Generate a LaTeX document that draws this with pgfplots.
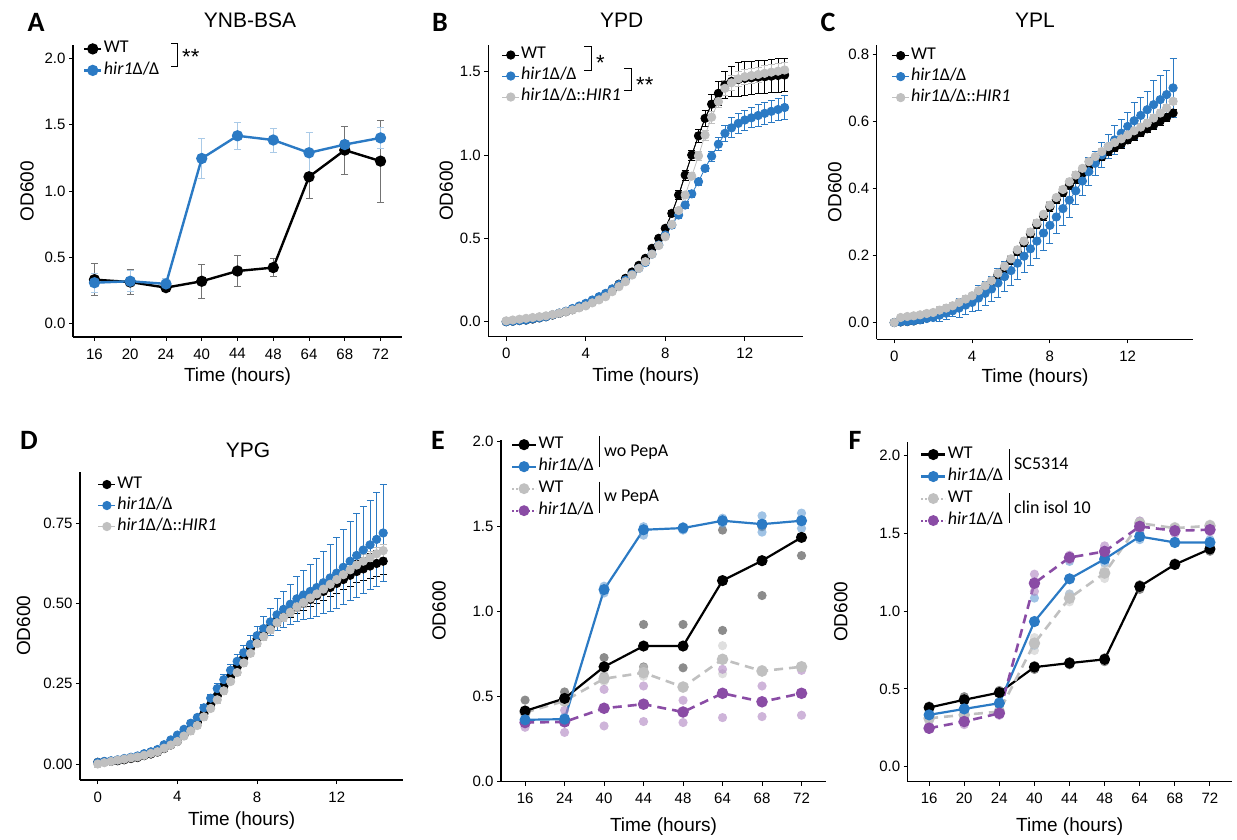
\documentclass[border=0pt]{standalone}
\usepackage{fontspec}
\setmainfont{Liberation Sans}
\newfontfamily\calfont{Carlito}
\usepackage{pgfplots}
\usepackage{pgfplotstable}
\pgfplotsset{compat=1.18}

\definecolor{hblue}{RGB}{43,122,196}
\definecolor{hgray}{RGB}{192,192,192}
\definecolor{hpurple}{RGB}{138,76,165}

\newcommand{\tickfont}{\fontsize{15}{18}\selectfont}
\newcommand{\labfont}{\fontsize{19}{22}\selectfont}
\newcommand{\legfont}{\calfont\fontsize{18}{20}\selectfont}
\newcommand{\titfont}{\fontsize{21}{24}\selectfont}
\newcommand{\letfont}{\calfont\bfseries\fontsize{28}{30}\selectfont}
\newcommand{\hir}{\textit{hir1}Δ/Δ}

% panel A: YNB-BSA, categories 16..72 at 0..8
\pgfplotstableread{
x wt wte hir hire
0 0.332 0.120 0.309 0.07
1 0.314 0.095 0.320 0.08
2 0.272 0.020 0.300 0.04
3 0.320 0.128 1.245 0.15
4 0.397 0.116 1.416 0.10
5 0.423 0.067 1.384 0.09
6 1.107 0.165 1.288 0.15
7 1.308 0.180 1.350 0.03
8 1.225 0.310 1.400 0.08
}\tA

% panel B: YPD
\pgfplotstableread{
t wt wte hir hire comp compe
0.00 0.000 0.01 0.000 0.01 0.005 0.01
0.33 0.003 0.01 0.003 0.01 0.010 0.01
0.67 0.007 0.01 0.007 0.01 0.015 0.01
1.00 0.010 0.01 0.010 0.01 0.020 0.01
1.33 0.016 0.01 0.017 0.01 0.025 0.01
1.67 0.023 0.01 0.023 0.01 0.030 0.01
2.00 0.030 0.01 0.030 0.01 0.035 0.01
2.33 0.040 0.01 0.041 0.01 0.043 0.01
2.67 0.050 0.01 0.052 0.01 0.051 0.01
3.00 0.060 0.01 0.063 0.01 0.060 0.01
3.33 0.072 0.01 0.079 0.01 0.071 0.01
3.67 0.086 0.01 0.094 0.01 0.083 0.01
4.00 0.100 0.01 0.110 0.01 0.095 0.01
4.33 0.118 0.01 0.130 0.01 0.113 0.01
4.67 0.138 0.01 0.150 0.01 0.131 0.01
5.00 0.160 0.01 0.170 0.01 0.150 0.01
5.33 0.190 0.01 0.197 0.01 0.180 0.01
5.67 0.225 0.01 0.223 0.01 0.210 0.01
6.00 0.260 0.01 0.250 0.01 0.240 0.01
6.33 0.298 0.01 0.285 0.015 0.280 0.01
6.67 0.338 0.01 0.320 0.015 0.320 0.01
7.00 0.380 0.01 0.355 0.015 0.360 0.01
7.33 0.440 0.01 0.405 0.015 0.405 0.01
7.67 0.500 0.01 0.460 0.015 0.457 0.01
8.00 0.560 0.01 0.520 0.015 0.510 0.01
8.33 0.650 0.02 0.580 0.02 0.583 0.01
8.67 0.760 0.025 0.640 0.02 0.667 0.01
9.00 0.880 0.03 0.700 0.02 0.760 0.01
9.33 1.000 0.03 0.767 0.02 0.873 0.02
9.67 1.115 0.04 0.840 0.02 0.995 0.025
10.00 1.220 0.05 0.920 0.02 1.120 0.03
10.33 1.305 0.06 0.993 0.03 1.227 0.035
10.67 1.370 0.07 1.065 0.04 1.320 0.035
11.00 1.420 0.08 1.130 0.05 1.400 0.045
11.33 1.442 0.09 1.163 0.06 1.433 0.045
11.67 1.453 0.10 1.190 0.06 1.457 0.045
12.00 1.460 0.10 1.210 0.06 1.470 0.045
12.33 1.463 0.10 1.223 0.06 1.477 0.045
12.67 1.467 0.10 1.237 0.065 1.483 0.045
13.00 1.470 0.10 1.250 0.065 1.490 0.045
13.33 1.473 0.10 1.262 0.065 1.497 0.045
13.67 1.477 0.10 1.273 0.065 1.503 0.045
14.00 1.480 0.10 1.285 0.07 1.510 0.045
}\tB

% panel C: YPL
\pgfplotstableread{
t wt wte hir hire comp compe
0.00 0.000 0.005 0.000 0.005 0.000 0.005
0.33 0.002 0.005 0.002 0.005 0.015 0.005
0.67 0.003 0.005 0.003 0.005 0.018 0.005
1.00 0.005 0.005 0.005 0.005 0.020 0.005
1.33 0.009 0.008 0.008 0.010 0.023 0.008
1.67 0.014 0.008 0.012 0.010 0.027 0.008
2.00 0.018 0.008 0.015 0.010 0.030 0.008
2.33 0.025 0.010 0.022 0.018 0.037 0.010
2.67 0.033 0.010 0.028 0.018 0.043 0.010
3.00 0.040 0.010 0.035 0.018 0.050 0.010
3.33 0.050 0.012 0.043 0.028 0.060 0.010
3.67 0.060 0.012 0.052 0.028 0.070 0.010
4.00 0.070 0.012 0.060 0.028 0.080 0.010
4.33 0.087 0.012 0.073 0.037 0.095 0.010
4.67 0.103 0.012 0.087 0.037 0.110 0.010
5.00 0.120 0.012 0.100 0.037 0.125 0.010
5.33 0.142 0.012 0.118 0.044 0.147 0.010
5.67 0.163 0.012 0.137 0.044 0.168 0.010
6.00 0.185 0.012 0.155 0.044 0.190 0.010
6.33 0.212 0.012 0.177 0.049 0.217 0.010
6.67 0.238 0.012 0.198 0.049 0.243 0.010
7.00 0.265 0.012 0.220 0.049 0.270 0.010
7.33 0.292 0.012 0.243 0.053 0.297 0.010
7.67 0.318 0.012 0.267 0.053 0.323 0.010
8.00 0.345 0.012 0.290 0.053 0.350 0.010
8.33 0.367 0.012 0.315 0.050 0.373 0.010
8.67 0.388 0.012 0.340 0.050 0.397 0.010
9.00 0.410 0.012 0.365 0.050 0.420 0.010
9.33 0.428 0.012 0.393 0.042 0.440 0.010
9.67 0.447 0.012 0.422 0.042 0.460 0.010
10.00 0.465 0.012 0.450 0.042 0.480 0.010
10.33 0.480 0.012 0.475 0.036 0.495 0.010
10.67 0.495 0.012 0.500 0.036 0.510 0.010
11.00 0.510 0.012 0.525 0.036 0.525 0.010
11.33 0.522 0.012 0.545 0.042 0.537 0.010
11.67 0.533 0.012 0.565 0.042 0.548 0.010
12.00 0.545 0.012 0.585 0.042 0.560 0.010
12.33 0.556 0.012 0.602 0.055 0.572 0.010
12.67 0.567 0.012 0.618 0.055 0.583 0.010
13.00 0.578 0.012 0.635 0.055 0.595 0.010
13.33 0.589 0.012 0.650 0.072 0.610 0.010
13.67 0.601 0.012 0.665 0.072 0.625 0.010
14.00 0.612 0.012 0.680 0.072 0.640 0.010
14.33 0.625 0.012 0.700 0.088 0.660 0.010
}\tC

% panel D: YPG
\pgfplotstableread{
t wt wte hir hire comp compe
0.00 0.005 0.008 0.005 0.005 0.000 0.01
0.33 0.007 0.008 0.008 0.005 0.004 0.01
0.67 0.008 0.008 0.010 0.005 0.008 0.01
1.00 0.010 0.008 0.013 0.005 0.012 0.01
1.33 0.013 0.008 0.017 0.005 0.015 0.01
1.67 0.017 0.008 0.021 0.005 0.019 0.01
2.00 0.020 0.008 0.025 0.005 0.022 0.01
2.33 0.026 0.008 0.032 0.005 0.027 0.01
2.67 0.031 0.008 0.038 0.005 0.033 0.01
3.00 0.037 0.008 0.045 0.005 0.038 0.01
3.33 0.048 0.008 0.060 0.005 0.049 0.01
3.67 0.059 0.008 0.075 0.005 0.059 0.01
4.00 0.070 0.008 0.090 0.005 0.070 0.01
4.33 0.090 0.008 0.108 0.007 0.087 0.01
4.67 0.110 0.008 0.127 0.008 0.103 0.01
5.00 0.130 0.008 0.145 0.010 0.120 0.01
5.33 0.157 0.008 0.175 0.012 0.147 0.01
5.67 0.185 0.008 0.205 0.013 0.173 0.01
6.00 0.212 0.008 0.235 0.015 0.200 0.01
6.33 0.242 0.008 0.263 0.017 0.228 0.01
6.67 0.272 0.008 0.292 0.018 0.257 0.01
7.00 0.302 0.008 0.320 0.020 0.285 0.01
7.33 0.331 0.008 0.347 0.023 0.315 0.01
7.67 0.361 0.008 0.373 0.027 0.345 0.01
8.00 0.390 0.008 0.400 0.030 0.375 0.01
8.33 0.409 0.010 0.422 0.037 0.397 0.012
8.67 0.429 0.013 0.443 0.043 0.418 0.012
9.00 0.448 0.015 0.465 0.050 0.440 0.012
9.33 0.462 0.017 0.482 0.057 0.457 0.014
9.67 0.476 0.018 0.498 0.063 0.473 0.014
10.00 0.490 0.020 0.515 0.070 0.490 0.014
10.33 0.502 0.022 0.527 0.077 0.503 0.016
10.67 0.513 0.023 0.538 0.083 0.517 0.016
11.00 0.525 0.025 0.550 0.090 0.530 0.016
11.33 0.538 0.027 0.565 0.097 0.545 0.018
11.67 0.550 0.028 0.580 0.103 0.560 0.018
12.00 0.563 0.030 0.595 0.110 0.575 0.018
12.33 0.575 0.032 0.613 0.117 0.590 0.02
12.67 0.588 0.033 0.632 0.123 0.605 0.02
13.00 0.600 0.035 0.650 0.130 0.620 0.02
13.33 0.608 0.037 0.667 0.135 0.632 0.02
13.67 0.617 0.038 0.683 0.140 0.643 0.02
14.00 0.625 0.040 0.700 0.145 0.655 0.02
14.33 0.632 0.040 0.720 0.150 0.665 0.02
}\tD

% panel E: means, categories 16,24,40,44,48,64,68,72 at 0..7
\pgfplotstableread{
x wt hir wtp hirp
0 0.416 0.364 0.407 0.348
1 0.490 0.368 0.475 0.352
2 0.676 1.130 0.606 0.432
3 0.798 1.482 0.641 0.456
4 0.798 1.492 0.557 0.410
5 1.183 1.535 0.720 0.520
6 1.300 1.515 0.651 0.470
7 1.437 1.535 0.676 0.520
}\tE
% panel E: replicates
\pgfplotstableread{
x wt hir wtp hirp
0 0.480 0.370 0.420 0.370
0 0.410 0.360 0.400 0.350
0 0.360 0.360 0.400 0.320
1 0.528 0.380 0.480 0.420
1 0.470 0.360 0.470 0.350
1 0.470 0.360 0.470 0.290
2 0.730 1.150 0.630 0.543
2 0.680 1.130 0.600 0.430
2 0.620 1.110 0.590 0.328
3 0.925 1.500 0.670 0.563
3 0.795 1.480 0.640 0.455
3 0.675 1.450 0.620 0.354
4 0.925 1.500 0.560 0.479
4 0.795 1.490 0.555 0.410
4 0.670 1.480 0.550 0.348
5 1.480 1.550 0.800 0.661
5 1.180 1.530 0.720 0.520
5 0.890 1.520 0.635 0.377
6 1.500 1.564 0.660 0.563
6 1.305 1.510 0.650 0.470
6 1.095 1.468 0.645 0.383
7 1.540 1.580 0.680 0.655
7 1.440 1.535 0.675 0.520
7 1.330 1.490 0.670 0.391
}\tEr

% panel F: means, categories 16..72 at 0..8
\pgfplotstableread{
x wt hir wtc hirc
0 0.380 0.333 0.311 0.247
1 0.430 0.371 0.333 0.290
2 0.476 0.408 0.354 0.343
3 0.640 0.933 0.794 1.180
4 0.666 1.208 1.084 1.345
5 0.690 1.335 1.245 1.384
6 1.159 1.480 1.566 1.545
7 1.300 1.442 1.534 1.517
8 1.400 1.442 1.549 1.524
}\tF
\pgfplotstableread{
x wt hir wtc hirc
0 0.390 0.340 0.330 0.260
0 0.380 0.333 0.310 0.250
0 0.370 0.325 0.290 0.240
1 0.450 0.380 0.340 0.310
1 0.430 0.370 0.330 0.290
1 0.420 0.360 0.320 0.270
2 0.490 0.420 0.360 0.350
2 0.480 0.410 0.355 0.343
2 0.470 0.400 0.340 0.330
3 0.650 1.084 0.830 1.238
3 0.640 0.940 0.790 1.180
3 0.625 0.780 0.747 1.127
4 0.675 1.320 1.110 1.360
4 0.665 1.210 1.085 1.345
4 0.655 1.110 1.060 1.330
5 0.700 1.360 1.270 1.420
5 0.690 1.335 1.245 1.385
5 0.675 1.310 1.210 1.350
6 1.170 1.500 1.580 1.580
6 1.160 1.480 1.565 1.545
6 1.140 1.460 1.550 1.520
7 1.310 1.450 1.545 1.530
7 1.300 1.440 1.535 1.517
7 1.295 1.435 1.525 1.500
8 1.410 1.460 1.560 1.540
8 1.400 1.440 1.550 1.524
8 1.385 1.430 1.540 1.510
}\tFr

\pgfplotsset{
  panel/.style={
    anchor=south west, scale only axis, clip=false,
    axis x line*=bottom, axis y line*=left,
    axis line style={line width=1.3pt, black},
    tick align=outside, major tick length=4pt,
    tick style={line width=0.9pt, black},
    ticklabel style={font=\tickfont},
    xticklabel style={yshift=-4pt},
    /pgf/number format/assume math mode=true,
    label style={font=\labfont},
    xlabel={Time (hours)}, ylabel={OD600},
    legend cell align=left,
    legend style={draw=none, fill=none, anchor=north west, font=\legfont,
      inner sep=0pt, row sep=2.5pt,
      nodes={inner sep=1.5pt, text height=11.5pt, text depth=4pt}},
  },
  lab/.style 2 args={xlabel style={yshift=#1pt}, ylabel style={yshift=#2pt}},
  yfix/.style={yticklabel style={/pgf/number format/.cd, fixed, fixed zerofill, precision=#1}},
  legshort/.style={legend image code/.code={\draw[mark repeat=2,mark phase=2,##1] plot coordinates {(0pt,0pt) (8.5pt,0pt) (17pt,0pt)};}},
  leglong/.style={legend image code/.code={\draw[mark repeat=2,mark phase=2,##1] plot coordinates {(0pt,0pt) (12pt,0pt) (24pt,0pt)};}},
  errs/.style={forget plot, only marks, mark=none,
    error bars/.cd, y dir=both, y explicit,
    error bar style={line width=0.8pt, color=#1},
    error mark options={rotate=90, mark size=3.5pt, line width=0.8pt, color=#1}},
  rep/.style={forget plot, only marks, mark=*, mark size=4.6pt, mark options={fill=#1, fill opacity=0.6, draw opacity=0}},
  dashd/.style={dash pattern=on 9pt off 6pt},
}

\begin{document}
\begin{tikzpicture}
\path[use as bounding box] (0pt,0pt) rectangle (1237pt,839pt);

% ---------- A ----------
\begin{axis}[panel, legshort, lab={-2}{4}, at={(73pt,502pt)}, width=329pt, height=292pt,
  xmin=-0.6, xmax=8.6, ymin=-0.10, ymax=2.10,
  xtick={0,...,8}, xticklabels={16,20,24,40,44,48,64,68,72},
  ytick={0,0.5,1,1.5,2}, yfix=1,
  legend style={at={(0.030,1.019)}, row sep=3pt}]
\addplot[errs=black!55] table[x=x, y=wt, y error=wte]{\tA};
\addplot[errs=hblue!40] table[x=x, y=hir, y error=hire]{\tA};
\addplot[black, line width=2.4pt, mark=*, mark size=4.4pt] table[x=x, y=wt]{\tA};
\addplot[hblue, line width=2.4pt, mark=*, mark size=4.4pt] table[x=x, y=hir]{\tA};
\legend{WT, \hir}
\end{axis}

% ---------- B ----------
\begin{axis}[panel, legshort, lab={-2}{0}, at={(488.3pt,502.3pt)}, width=315pt, height=291.7pt,
  xmin=-0.9, xmax=14.94, ymin=-0.09, ymax=1.66,
  xtick={0,4,8,12}, ytick={0,0.5,1,1.5}, yfix=1,
  legend style={at={(0.0425,0.998)}}]
\addplot[errs=black] table[x=t, y=wt, y error=wte]{\tB};
\addplot[errs=hblue] table[x=t, y=hir, y error=hire]{\tB};
\addplot[errs=hgray] table[x=t, y=comp, y error=compe]{\tB};
\addplot[black, line width=0.8pt, mark=*, mark size=4.2pt] table[x=t, y=wt]{\tB};
\addplot[hblue, line width=0.8pt, mark=*, mark size=4.2pt] table[x=t, y=hir]{\tB};
\addplot[hgray, line width=0.8pt, mark=*, mark size=4.2pt] table[x=t, y=comp]{\tB};
\addplot[forget plot, black, line width=0.8pt] table[x=t, y=wt]{\tB};
\legend{WT, \hir, \hir::\textit{HIR1}}
\end{axis}

% ---------- C ----------
\begin{axis}[panel, legshort, lab={0}{0}, at={(876.7pt,499.7pt)}, width=316.6pt, height=294.3pt,
  xmin=-0.9, xmax=15.37, ymin=-0.05, ymax=0.828,
  xtick={0,4,8,12}, ytick={0,0.2,0.4,0.6,0.8}, yfix=1,
  legend style={at={(0.047,0.996)}}]
\addplot[errs=black] table[x=t, y=wt, y error=wte]{\tC};
\addplot[errs=hblue] table[x=t, y=hir, y error=hire]{\tC};
\addplot[errs=hgray] table[x=t, y=comp, y error=compe]{\tC};
\addplot[black, line width=0.8pt, mark=*, mark size=4.2pt] table[x=t, y=wt]{\tC};
\addplot[hblue, line width=0.8pt, mark=*, mark size=4.2pt] table[x=t, y=hir]{\tC};
\addplot[hgray, line width=0.8pt, mark=*, mark size=4.2pt] table[x=t, y=comp]{\tC};
\addplot[forget plot, black, line width=0.8pt] table[x=t, y=wt]{\tC};
\legend{WT, \hir, \hir::\textit{HIR1}}
\end{axis}

% ---------- D ----------
\begin{axis}[panel, legshort, lab={-3}{6}, at={(80pt,59pt)}, width=323.3pt, height=308.3pt,
  xmin=-0.89, xmax=15.34, ymin=-0.05, ymax=0.911,
  xtick={0,4,8,12}, ytick={0,0.25,0.5,0.75}, yfix=2,
  legend style={at={(0.055,0.989)}}]
\addplot[errs=black] table[x=t, y=wt, y error=wte]{\tD};
\addplot[errs=hblue] table[x=t, y=hir, y error=hire]{\tD};
\addplot[errs=hgray] table[x=t, y=comp, y error=compe]{\tD};
\addplot[black, line width=0.8pt, mark=*, mark size=4.2pt] table[x=t, y=wt]{\tD};
\addplot[hblue, line width=0.8pt, mark=*, mark size=4.2pt] table[x=t, y=hir]{\tD};
\addplot[hgray, line width=0.8pt, mark=*, mark size=4.2pt] table[x=t, y=comp]{\tD};
\addplot[forget plot, black, line width=0.8pt] table[x=t, y=wt]{\tD};
\legend{WT, \hir, \hir::\textit{HIR1}}
\end{axis}

% ---------- E ----------
\begin{axis}[panel, leglong, lab={-7}{20}, at={(501pt,57.3pt)}, width=325pt, height=341.7pt,
  xmin=-0.61, xmax=7.62, ymin=0, ymax=2.01,
  xtick={0,...,7}, xticklabels={16,24,40,44,48,64,68,72},
  ytick={0,0.5,1,1.5,2}, yfix=1,
  legend style={at={(0.030,1.014)}, row sep=3.5pt}]
\addplot[rep=black!75] table[x=x, y=wt]{\tEr};
\addplot[rep=hblue!75] table[x=x, y=hir]{\tEr};
\addplot[rep=hgray!85] table[x=x, y=wtp]{\tEr};
\addplot[rep=hpurple!70] table[x=x, y=hirp]{\tEr};
\addplot[forget plot, hgray, line width=2.6pt, dashd, mark=*, mark size=4.4pt, mark options={solid}] table[x=x, y=wtp]{\tE};
\addplot[forget plot, hpurple, line width=2.6pt, dashd, mark=*, mark size=4.4pt, mark options={solid}] table[x=x, y=hirp]{\tE};
\addplot[forget plot, black, line width=2.2pt, mark=*, mark size=4.4pt] table[x=x, y=wt]{\tE};
\addplot[forget plot, hblue, line width=2.2pt, mark=*, mark size=4.4pt] table[x=x, y=hir]{\tE};
\addlegendimage{black, line width=2.2pt, mark=*, mark size=4.4pt}
\addlegendentry{WT}
\addlegendimage{hblue, line width=2.2pt, mark=*, mark size=4.4pt}
\addlegendentry{\hir}
\addlegendimage{hgray, line width=2pt, dotted, mark=*, mark size=4.4pt, mark options={solid}}
\addlegendentry{WT}
\addlegendimage{hpurple, line width=2pt, dotted, mark=*, mark size=4.4pt, mark options={solid}}
\addlegendentry{\hir}
\end{axis}

% ---------- F ----------
\begin{axis}[panel, leglong, lab={-7}{25}, at={(907.7pt,57.3pt)}, width=324pt, height=340pt,
  xmin=-0.61, xmax=8.62, ymin=-0.097, ymax=2.09,
  xtick={0,...,8}, xticklabels={16,20,24,40,44,48,64,68,72},
  ytick={0,0.5,1,1.5,2}, yfix=1,
  legend style={at={(0.038,0.990)}, row sep=3.5pt}]
\addplot[rep=black!75] table[x=x, y=wt]{\tFr};
\addplot[rep=hblue!75] table[x=x, y=hir]{\tFr};
\addplot[rep=hgray!85] table[x=x, y=wtc]{\tFr};
\addplot[rep=hpurple!70] table[x=x, y=hirc]{\tFr};
\addplot[forget plot, black, line width=2.2pt, mark=*, mark size=4.4pt] table[x=x, y=wt]{\tF};
\addplot[forget plot, hgray, line width=2.6pt, dashd, mark=*, mark size=4.4pt, mark options={solid}] table[x=x, y=wtc]{\tF};
\addplot[forget plot, hblue, line width=2.2pt, mark=*, mark size=4.4pt] table[x=x, y=hir]{\tF};
\addplot[forget plot, hpurple, line width=2.6pt, dashd, mark=*, mark size=4.4pt, mark options={solid}] table[x=x, y=hirc]{\tF};
\addlegendimage{black, line width=2.2pt, mark=*, mark size=4.4pt}
\addlegendentry{WT}
\addlegendimage{hblue, line width=2.2pt, mark=*, mark size=4.4pt}
\addlegendentry{\hir}
\addlegendimage{hgray, line width=2pt, dotted, mark=*, mark size=4.4pt, mark options={solid}}
\addlegendentry{WT}
\addlegendimage{hpurple, line width=2pt, dotted, mark=*, mark size=4.4pt, mark options={solid}}
\addlegendentry{\hir}
\end{axis}

% ---------- titles and panel letters ----------
\begin{scope}[x=1pt, y=1pt]
\node[font=\titfont] at (250,819) {YNB-BSA};
\node[font=\titfont] at (621.7,819) {YPD};
\node[font=\titfont] at (1035,819) {YPL};
\node[font=\titfont] at (248,389) {YPG};
\node[font=\letfont] at (36,817) {A};
\node[font=\letfont] at (440,817) {B};
\node[font=\letfont] at (828,817) {C};
\node[font=\letfont] at (29,399) {D};
\node[font=\letfont] at (438,399) {E};
\node[font=\letfont] at (855,399) {F};

% ---------- significance brackets ----------
\draw[line width=0.9pt] (171,795.7) -- (177.5,795.7) -- (177.5,773) -- (171,773);
\node[anchor=base west, inner sep=0pt, font=\fontsize{22}{22}\selectfont] at (182,774) {**};
\draw[line width=0.9pt] (584.3,792.3) -- (591.7,792.3) -- (591.7,769) -- (584.3,769);
\node[anchor=base west, inner sep=0pt, font=\fontsize{22}{22}\selectfont] at (596,768.4) {*};
\draw[line width=0.9pt] (624,770.7) -- (631,770.7) -- (631,748.3) -- (624,748.3);
\node[anchor=base west, inner sep=0pt, font=\fontsize{22}{22}\selectfont] at (636,746.4) {**};

% ---------- group bars in E and F ----------
\draw[line width=1pt] (599,403) -- (599,371.7);
\draw[line width=1pt] (599,357.3) -- (599,325.7);
\node[anchor=west, inner sep=0pt, font=\legfont] at (604,387.3) {wo PepA};
\node[anchor=west, inner sep=0pt, font=\legfont] at (604,341.7) {w PepA};
\draw[line width=1pt] (1009.3,389.7) -- (1009.3,359);
\draw[line width=1pt] (1009.3,345.7) -- (1009.3,315.7);
\node[anchor=west, inner sep=0pt, font=\legfont] at (1014,375.7) {SC5314};
\node[anchor=west, inner sep=0pt, font=\legfont] at (1014,331.7) {clin isol 10};
\end{scope}
\end{tikzpicture}
\end{document}
